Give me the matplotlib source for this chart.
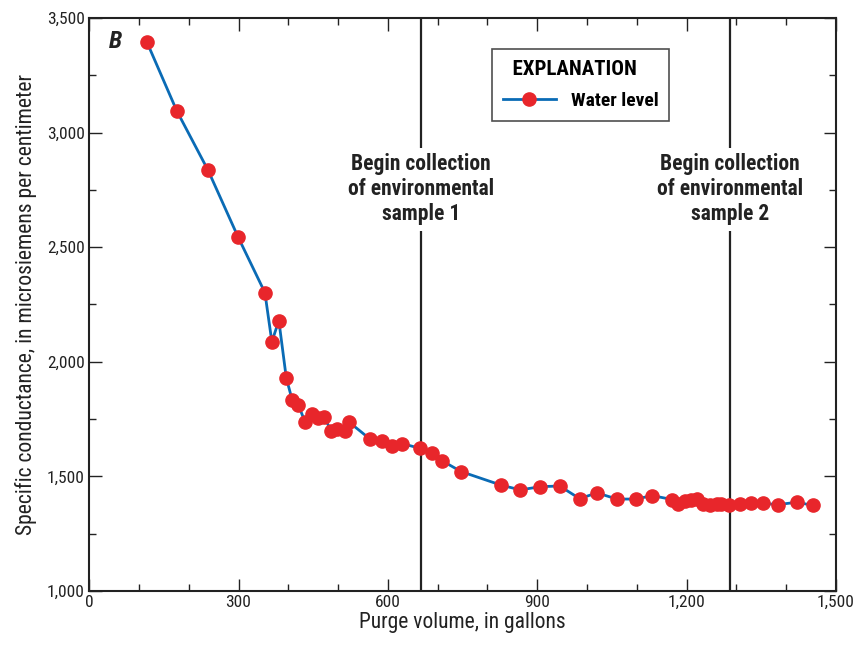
import matplotlib
matplotlib.use("Agg")
from matplotlib import pyplot as plt
from matplotlib.ticker import MultipleLocator, FuncFormatter

purge_gal = [116, 176, 239, 299, 353, 367, 381, 396, 408, 420, 434, 448, 460, 472,
             486, 498, 514, 522, 564, 588, 608, 629, 665, 689, 709, 747, 827, 866,
             906, 945, 985, 1020, 1060, 1098, 1131, 1171, 1182, 1197, 1208, 1220,
             1233, 1246, 1260, 1270, 1285, 1307, 1329, 1354, 1384, 1421, 1453]
conductance = [3395, 3095, 2835, 2545, 2302, 2087, 2180, 1929, 1832, 1812, 1736,
               1770, 1755, 1759, 1699, 1705, 1697, 1737, 1663, 1655, 1633, 1643,
               1622, 1603, 1568, 1521, 1462, 1441, 1455, 1458, 1403, 1428, 1401,
               1401, 1416, 1399, 1379, 1392, 1395, 1401, 1379, 1373, 1380, 1379,
               1373, 1379, 1384, 1382, 1377, 1387, 1374]
sample_starts = [667, 1287]
sample_labels = ["Begin collection\nof environmental\nsample 1",
                 "Begin collection\nof environmental\nsample 2"]

plt.rcParams["font.family"] = ["Roboto Condensed", "DejaVu Sans"]

fig = plt.figure(figsize=(8.57, 6.47), dpi=100)
ax = fig.add_axes([0.104, 0.0866, 0.8715, 0.8856])

for xs, lab in zip(sample_starts, sample_labels):
    ax.axvline(xs, color="#222222", lw=1.6, zorder=1)
    ax.text(xs, 2752, lab, ha="center", va="center", fontsize=15.5,
            fontweight="bold", color="#222222", linespacing=1.18, zorder=2,
            bbox=dict(facecolor="white", edgecolor="none", pad=4))

ax.plot(purge_gal, conductance, color="#0a6bb5", lw=2.0, marker="o",
        markersize=9.5, markerfacecolor="#e8262b", markeredgecolor="#e8262b",
        label="Water level", zorder=3)

ax.set_xlim(0, 1500)
ax.set_ylim(1000, 3500)
ax.xaxis.set_major_locator(MultipleLocator(300))
ax.xaxis.set_minor_locator(MultipleLocator(100))
ax.yaxis.set_major_locator(MultipleLocator(500))
ax.yaxis.set_minor_locator(MultipleLocator(250))
fmt = FuncFormatter(lambda v, p: f"{int(v):,}")
ax.xaxis.set_major_formatter(fmt)
ax.yaxis.set_major_formatter(fmt)
ax.tick_params(which="both", direction="in", top=True, right=True,
               color="#222222", labelsize=12.5, labelcolor="#222222")
ax.tick_params(which="major", length=9, width=1.0, pad=3)
ax.tick_params(which="minor", length=5, width=1.0)
for s in ax.spines.values():
    s.set_linewidth(1.5)
    s.set_color("#222222")

ax.set_xlabel("Purge volume, in gallons", fontsize=15.5, color="#222222", labelpad=1)
ax.set_ylabel("Specific conductance, in microsiemens per centimeter",
              fontsize=15.6, color="#222222", labelpad=7)

ax.text(0.027, 0.959, "B", transform=ax.transAxes, fontsize=17.5,
        fontweight="bold", fontstyle="italic", color="#222222", va="center")

leg = ax.legend(loc="upper left", bbox_to_anchor=(0.5395, 0.946), borderaxespad=0,
                title="  EXPLANATION", fontsize=14, frameon=True, fancybox=False,
                edgecolor="#222222", borderpad=0.55, handlelength=2.75,
                handletextpad=0.75, labelspacing=0.7)
leg.get_title().set_fontsize(15)
leg.get_title().set_fontweight("bold")
for t in leg.get_texts():
    t.set_fontweight("bold")
leg._legend_box.align = "left"
leg.get_frame().set_linewidth(1.2)

fig.savefig("out.png", dpi=100)
